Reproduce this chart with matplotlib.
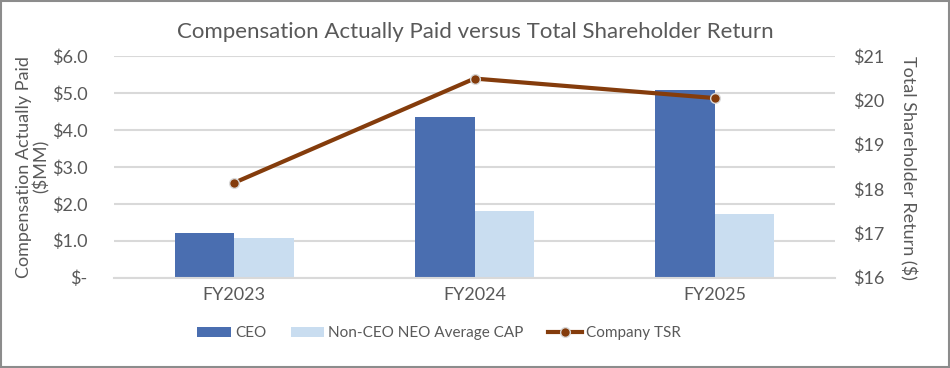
import matplotlib.pyplot as plt
import numpy as np
from matplotlib.patches import Rectangle

plt.rcParams['font.family'] = ['Lato', 'DejaVu Sans']

years = ['FY2023', 'FY2024', 'FY2025']
ceo_cap = [1.20, 4.36, 5.08]
neo_cap = [1.07, 1.80, 1.72]
tsr = [18.14, 20.49, 20.05]

left_ticks = [0, 1, 2, 3, 4, 5, 6]
left_labels = ['$-', '$1.0', '$2.0', '$3.0', '$4.0', '$5.0', '$6.0']
right_ticks = [16, 17, 18, 19, 20, 21]
right_labels = ['$16', '$17', '$18', '$19', '$20', '$21']

ceo_color = '#4A6EB0'
neo_color = '#C9DDF0'
tsr_color = '#843C0C'
text_color = '#595959'

fig = plt.figure(figsize=(9.5, 3.68), dpi=100)
ax = fig.add_axes([0.12, 0.2454, 0.759, 0.6026])
ax2 = ax.twinx()

x = np.arange(len(years))
w = 0.248
b1 = ax.bar(x - w / 2, ceo_cap, w, color=ceo_color, label='CEO', zorder=2)
b2 = ax.bar(x + w / 2, neo_cap, w, color=neo_color, label='Non-CEO NEO Average CAP', zorder=2)
ln, = ax2.plot(x, tsr, color=tsr_color, lw=3, marker='o', ms=7,
               mfc=tsr_color, mec='#D9D9D9', mew=1, label='Company TSR', zorder=3)

ax.set_xlim(-0.5, 2.5)
ax.set_ylim(0, 6)
ax.set_yticks(left_ticks)
ax.set_yticklabels(left_labels)
ax.set_xticks(x)
ax.set_xticklabels(years)
ax.grid(axis='y', color='#D9D9D9', lw=1.5, zorder=0)
ax.set_axisbelow(True)

ax2.set_ylim(16, 21)
ax2.set_yticks(right_ticks)
ax2.set_yticklabels(right_labels)

for a in (ax, ax2):
    for s in a.spines.values():
        s.set_visible(False)
    a.tick_params(length=0, labelsize=13, colors=text_color)
ax.spines['bottom'].set_visible(True)
ax.spines['bottom'].set_color('#D9D9D9')
ax.spines['bottom'].set_linewidth(1.5)
ax.tick_params(axis='y', pad=19)
ax.tick_params(axis='x', pad=7)
ax2.tick_params(axis='y', pad=13)

ax.set_ylabel('Compensation Actually Paid\n($MM)', fontsize=13, color=text_color,
              linespacing=1.0, labelpad=2)
# right axis title placed directly (labelpad overlaps with the tick labels)
fig.text(908 / 950, 0.545, 'Total Shareholder Return ($)', fontsize=13,
         color=text_color, rotation=270, ha='center', va='center')

fig.suptitle('Compensation Actually Paid versus Total Shareholder Return',
             fontsize=16, color=text_color, y=0.94)

fig.legend([b1, b2, ln], ['CEO', 'Non-CEO NEO Average CAP', 'Company TSR'],
           loc='center', bbox_to_anchor=(0.462, 0.095), ncol=3, frameon=False,
           fontsize=11, labelcolor=text_color, handlelength=2.2,
           handleheight=0.6, columnspacing=1.6, handletextpad=0.26)

fig.patches.append(Rectangle((0.001, 0.002), 0.998, 0.996, transform=fig.transFigure,
                             fill=False, edgecolor='#8C8C8C', lw=1.5))

fig.savefig('out.png', dpi=100)
